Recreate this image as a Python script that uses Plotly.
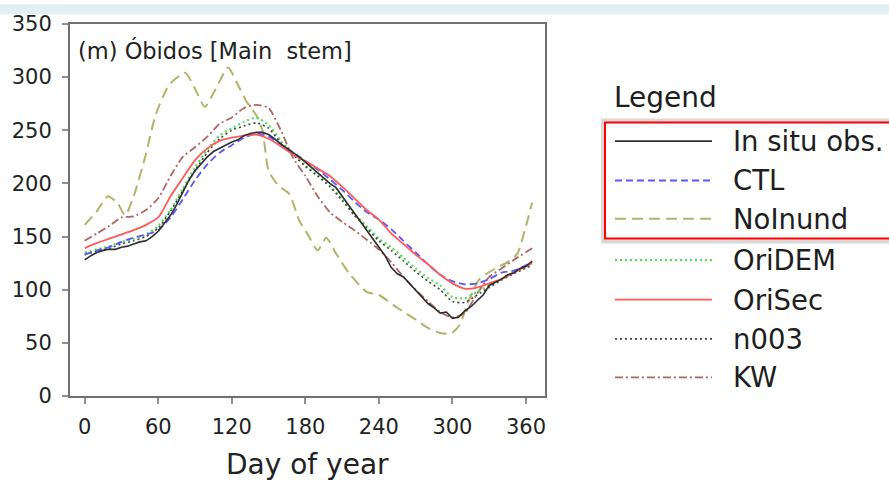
import plotly.graph_objects as go

# ---------------- data ----------------
obs_days = [0,5,10,15,20,25,30,35,40,45,50,55,60,65,70,75,80,85,90,95,100,105,110,115,120,125,130,135,140,145,150,155,160,165,170,175,180,185,190,195,200,205,210,215,220,225,230,235,240,245,250,255,260,265,270,275,280,285,290,295,300,305,310,315,320,325,330,335,340,345,350,355,360,365]
obs_vals = [128,132,135,137,138,138,140,141,143,145,146,150,155,162,170,180,192,203,212,219,225,230,233,236,239,241,245,247,248,248,246,242,237,233,229,225,220,215,210,205,200,196,188,180,172,165,156,148,140,132,121,115,112,106,100,93,87,83,78,79,73,74,80,84,90,95,104,107,110,114,116,120,122,127]

grid_days = [0,10,20,30,40,50,60,70,80,90,100,110,120,130,140,150,160,170,180,190,200,210,220,230,240,250,260,270,280,290,300,310,320,330,340,350,365]
ctl_vals    = [133,137,140,145,149,152,156,168,185,203,218,229,236,243,247,244,237,229,221,213,204,194,183,173,166,157,146,135,124,114,108,105,106,110,116,118,126]
orisec_vals = [139,144,148,152,156,161,168,188,205,222,233,240,243,245,246,242,235,227,221,214,207,197,186,175,166,153,143,133,124,114,106,101,102,106,110,116,125]
oridem_vals = [135,138,141,145,148,152,160,175,195,215,232,245,252,258,262,255,240,228,217,208,198,185,171,160,148,140,130,120,111,104,93,92,98,104,110,116,124]
n003_vals   = [133,136,139,143,146,150,158,174,193,212,229,242,250,254,257,252,238,227,216,207,197,184,170,158,146,137,127,117,108,100,89,88,95,102,109,115,123]
kw_vals     = [146,153,160,168,169,175,186,207,225,234,244,256,262,271,274,271,250,224,207,188,173,164,156,147,138,126,112,100,89,79,74,78,96,112,120,128,139]

noinund_days = [0,10,19,27,33,40,50,58,69,82,90,98,106,117,124,132,140,145,150,158,167,175,182,190,197,205,216,230,240,255,270,280,291,299,306,312,322,335,345,353,360,365]
noinund_vals = [161,174,188,181,170,188,228,265,293,304,289,272,287,309,295,277,264,250,212,198,190,165,152,137,149,134,115,98,95,83,72,64,59,59,67,86,110,120,126,134,160,182]

series_names = ["In situ obs.", "CTL", "NoInund", "OriDEM", "OriSec", "n003", "KW"]
x_ticks = [0, 60, 120, 180, 240, 300, 360]
y_ticks = [0, 50, 100, 150, 200, 250, 300, 350]

# ---------------- styles ----------------
styles = {
    "In situ obs.": dict(color="#2e2e2e", dash="solid", width=1.6),
    "CTL":          dict(color="#5858ff", dash="7px,4px", width=1.8),
    "NoInund":      dict(color="#b3b36a", dash="11px,6px", width=2.0),
    "OriDEM":       dict(color="#55dd55", dash="2px,3px", width=2.2),
    "OriSec":       dict(color="#ff5a5a", dash="solid", width=1.8),
    "n003":         dict(color="#444444", dash="2px,3px", width=1.6),
    "KW":           dict(color="#b06464", dash="8px,3px,2px,3px", width=1.8),
}
data_map = {
    "In situ obs.": (obs_days, obs_vals),
    "CTL": (grid_days, ctl_vals),
    "NoInund": (noinund_days, noinund_vals),
    "OriDEM": (grid_days, oridem_vals),
    "OriSec": (grid_days, orisec_vals),
    "n003": (grid_days, n003_vals),
    "KW": (grid_days, kw_vals),
}

W, H = 889, 486
L, R, T, B = 70, 545, 18, 396

def px(xp):
    return (xp - L) / (R - L)

def py(yp):
    return (B - yp) / (B - T)

fig = go.Figure()
for name in ["NoInund", "KW", "OriDEM", "n003", "CTL", "OriSec", "In situ obs."]:
    d, v = data_map[name]
    st = styles[name]
    fig.add_trace(go.Scatter(
        x=d, y=v, mode="lines", name=name, showlegend=False,
        line=dict(color=st["color"], dash=st["dash"], width=st["width"],
                  shape="spline" if name != "In situ obs." else "linear", smoothing=0.6),
    ))

font = "DejaVu Sans"
shapes = []
annotations = []

# top tinted band
shapes.append(dict(type="rect", xref="paper", yref="paper", x0=px(0), x1=px(W), y0=py(8), y1=py(-2),
                   fillcolor="#e1f0f2", line=dict(width=0), layer="below"))

# legend
annotations.append(dict(text="Legend", xref="paper", yref="paper", x=px(612), y=py(93),
                        xanchor="left", yanchor="middle", showarrow=False,
                        font=dict(family=font, size=28, color="#1e1e1e")))
row_y = [137, 177, 216, 258, 298, 338, 377]
for name, ry in zip(series_names, row_y):
    st = styles[name]
    shapes.append(dict(type="line", xref="paper", yref="paper", x0=px(615), x1=px(712),
                       y0=py(ry), y1=py(ry),
                       line=dict(color=st["color"], dash=st["dash"], width=st["width"])))
    annotations.append(dict(text=name, xref="paper", yref="paper", x=px(731), y=py(ry),
                            xanchor="left", yanchor="middle", showarrow=False,
                            font=dict(family=font, size=27.5, color="#1e1e1e")))
# shadow + red highlight box
shapes.append(dict(type="rect", xref="paper", yref="paper", x0=px(603), x1=px(895),
                   y0=py(239), y1=py(116), line=dict(color="#d8d8d8", width=4)))
shapes.append(dict(type="rect", xref="paper", yref="paper", x0=px(605), x1=px(893),
                   y0=py(236), y1=py(118), line=dict(color="#ff0000", width=2)))

# panel title
annotations.append(dict(text="(m) Óbidos [Main\u00a0 stem]", xref="paper", yref="paper",
                        x=px(76), y=py(45), xanchor="left", yanchor="middle", showarrow=False,
                        font=dict(family=font, size=22.5, color="#222222")))
# x axis title
annotations.append(dict(text="Day of year", xref="paper", yref="paper",
                        x=px(307), y=py(466), xanchor="center", yanchor="middle", showarrow=False,
                        font=dict(family=font, size=28, color="#222222")))

fig.update_layout(
    width=W, height=H,
    margin=dict(l=L, r=W - R, t=T, b=H - B),
    paper_bgcolor="white", plot_bgcolor="white",
    shapes=shapes, annotations=annotations,
    showlegend=False,
)
fig.update_xaxes(range=[-12, 375.5], tickvals=x_ticks, ticktext=[str(t) for t in x_ticks],
                 showgrid=False, zeroline=False, showline=True, mirror=True,
                 linecolor="#707070", linewidth=2, ticks="outside", ticklen=6, tickwidth=1.5,
                 tickcolor="#909090", ticklabelstandoff=5,
                 tickfont=dict(family=font, size=21, color="#222222"))
fig.update_yaxes(range=[0, 350], tickvals=y_ticks, ticktext=[str(t) for t in y_ticks],
                 showgrid=False, zeroline=False, showline=True, mirror=True,
                 linecolor="#707070", linewidth=2, ticks="outside", ticklen=6, tickwidth=1.5,
                 tickcolor="#909090", ticklabelstandoff=6,
                 tickfont=dict(family=font, size=21, color="#222222"))

fig.write_html("out.html", config={"displayModeBar": False},
               post_script="document.body.style.margin='0';document.body.style.overflow='hidden';")
